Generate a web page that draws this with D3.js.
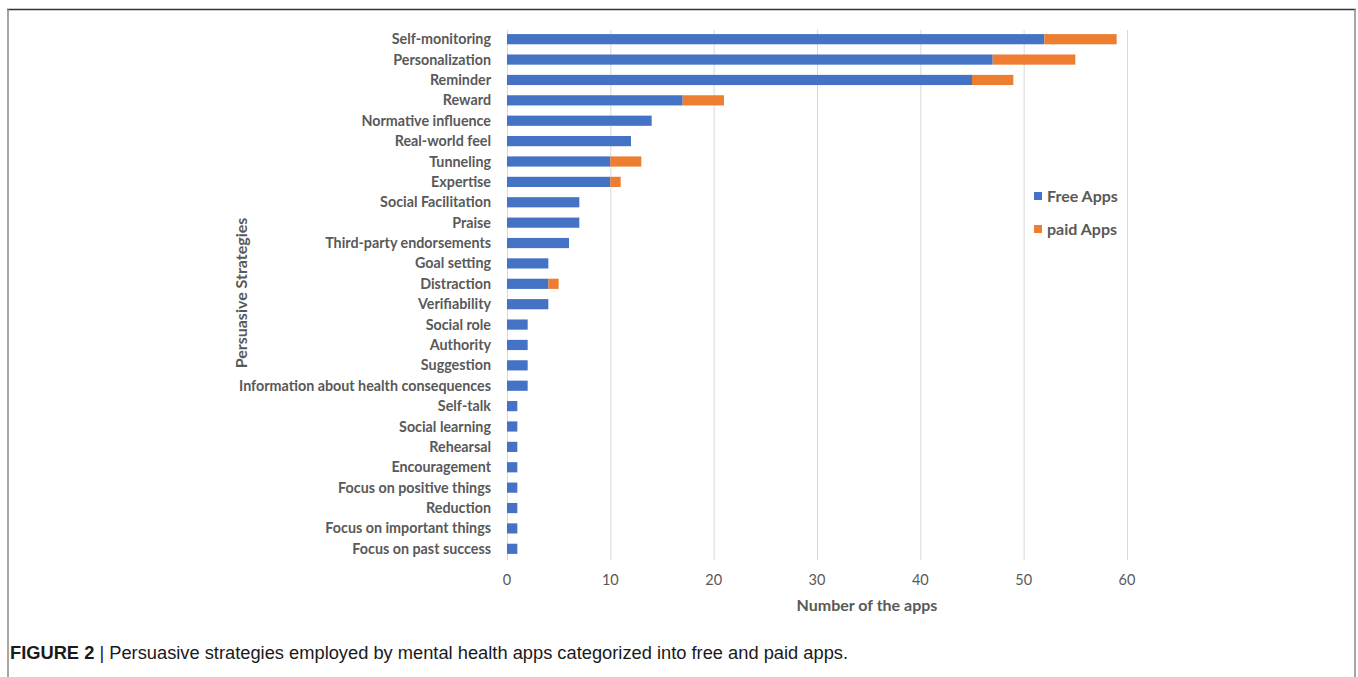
<!doctype html>
<html lang="en">
  <head>
    <meta charset="utf-8" />
    <title>Persuasive strategies</title>
    <script src="https://cdn.jsdelivr.net/npm/d3@7"></script>
    <style>
      body { margin: 0; background: #fff; }
      svg { display: block; }
    </style>
  </head>
  <body>
    <svg id="main" width="1358" height="677"></svg>
    <script>
      const strategies = [
        'Self-monitoring', 'Personalization', 'Reminder', 'Reward', 'Normative influence',
        'Real-world feel', 'Tunneling', 'Expertise', 'Social Facilitation', 'Praise',
        'Third-party endorsements', 'Goal setting', 'Distraction', 'Verifiability', 'Social role',
        'Authority', 'Suggestion', 'Information about health consequences', 'Self-talk',
        'Social learning', 'Rehearsal', 'Encouragement', 'Focus on positive things', 'Reduction',
        'Focus on important things', 'Focus on past success'
      ];
      const freeApps = [52, 47, 45, 17, 14, 12, 10, 10, 7, 7, 6, 4, 4, 4, 2, 2, 2, 2, 1, 1, 1, 1, 1, 1, 1, 1];
      const paidApps = [7, 8, 4, 4, 0, 0, 3, 1, 0, 0, 0, 0, 1, 0, 0, 0, 0, 0, 0, 0, 0, 0, 0, 0, 0, 0];
      const xTicks = [0, 10, 20, 30, 40, 50, 60];
      const seriesNames = ['Free Apps', 'paid Apps'];
      const colors = ['#4472c4', '#ed7d31'];

      const svg = d3.select('#main');
      const textColor = '#595959';
      const font = 'Lato, "Open Sans", sans-serif';

      // figure frame
      svg.append('line').attr('x1', 7).attr('x2', 1356).attr('y1', 9.5).attr('y2', 9.5)
        .attr('stroke', '#333').attr('stroke-width', 1.5);
      svg.append('line').attr('x1', 8).attr('x2', 8).attr('y1', 9).attr('y2', 677)
        .attr('stroke', '#888').attr('stroke-width', 1.5);
      svg.append('line').attr('x1', 1355).attr('x2', 1355).attr('y1', 9).attr('y2', 677)
        .attr('stroke', '#888').attr('stroke-width', 1.5);

      const x = d3.scaleLinear().domain([0, 60]).range([507, 1127]);
      const y = d3.scaleBand().domain(strategies).range([29, 559]).paddingInner(0.5).paddingOuter(0.25);

      // gridlines
      svg.append('g').selectAll('line').data(xTicks).join('line')
        .attr('x1', d => x(d) + 0.5).attr('x2', d => x(d) + 0.5)
        .attr('y1', 30).attr('y2', 560)
        .attr('stroke', '#d9d9d9').attr('stroke-width', 1);

      const stacked = d3.stack().keys([0, 1]).value((i, k) => (k === 0 ? freeApps : paidApps)[i])(d3.range(strategies.length));

      svg.append('g').selectAll('g').data(stacked).join('g')
        .attr('fill', (d, i) => colors[i])
        .selectAll('rect').data(d => d).join('rect')
        .attr('x', d => x(d[0]))
        .attr('width', d => x(d[1]) - x(d[0]))
        .attr('y', (d, i) => y(strategies[i]))
        .attr('height', y.bandwidth());

      // category labels
      svg.append('g').selectAll('text').data(strategies).join('text')
        .attr('x', 491).attr('y', d => y(d) + y.bandwidth() / 2)
        .attr('dy', '0.35em').attr('text-anchor', 'end')
        .attr('font-family', font).attr('font-weight', 'bold').attr('font-size', 14.3)
        .attr('fill', textColor).text(d => d);

      // x tick labels
      svg.append('g').selectAll('text').data(xTicks).join('text')
        .attr('x', d => x(d)).attr('y', 580).attr('dy', '0.35em')
        .attr('text-anchor', 'middle')
        .attr('font-family', font).attr('font-size', 14.5)
        .attr('fill', textColor).text(d => d);

      svg.append('text').attr('x', 867).attr('y', 605).attr('dy', '0.35em')
        .attr('text-anchor', 'middle').attr('font-family', font).attr('font-weight', 'bold')
        .attr('font-size', 16).attr('fill', textColor).text('Number of the apps');

      svg.append('text').attr('transform', 'translate(241,293) rotate(-90)')
        .attr('dy', '0.35em').attr('text-anchor', 'middle').attr('font-family', font)
        .attr('font-weight', 'bold').attr('font-size', 16).attr('fill', textColor)
        .text('Persuasive Strategies');

      // legend
      const legend = svg.append('g').selectAll('g').data(seriesNames).join('g')
        .attr('transform', (d, i) => `translate(1034,${196 + i * 33})`);
      legend.append('rect').attr('x', 0).attr('y', -4).attr('width', 8).attr('height', 8)
        .attr('fill', (d, i) => colors[i]);
      legend.append('text').attr('x', 13).attr('dy', '0.35em')
        .attr('font-family', font).attr('font-weight', 'bold').attr('font-size', 16)
        .attr('fill', textColor).text(d => d);

      // caption
      const cap = svg.append('text').attr('x', 10).attr('y', 659)
        .attr('font-family', '"Liberation Sans", Arial, sans-serif')
        .attr('font-size', 18.3).attr('fill', '#1a1a1a');
      cap.append('tspan').attr('font-weight', 'bold').text('FIGURE 2');
      cap.append('tspan').text(' | Persuasive strategies employed by mental health apps categorized into free and paid apps.');
    </script>
  </body>
</html>
